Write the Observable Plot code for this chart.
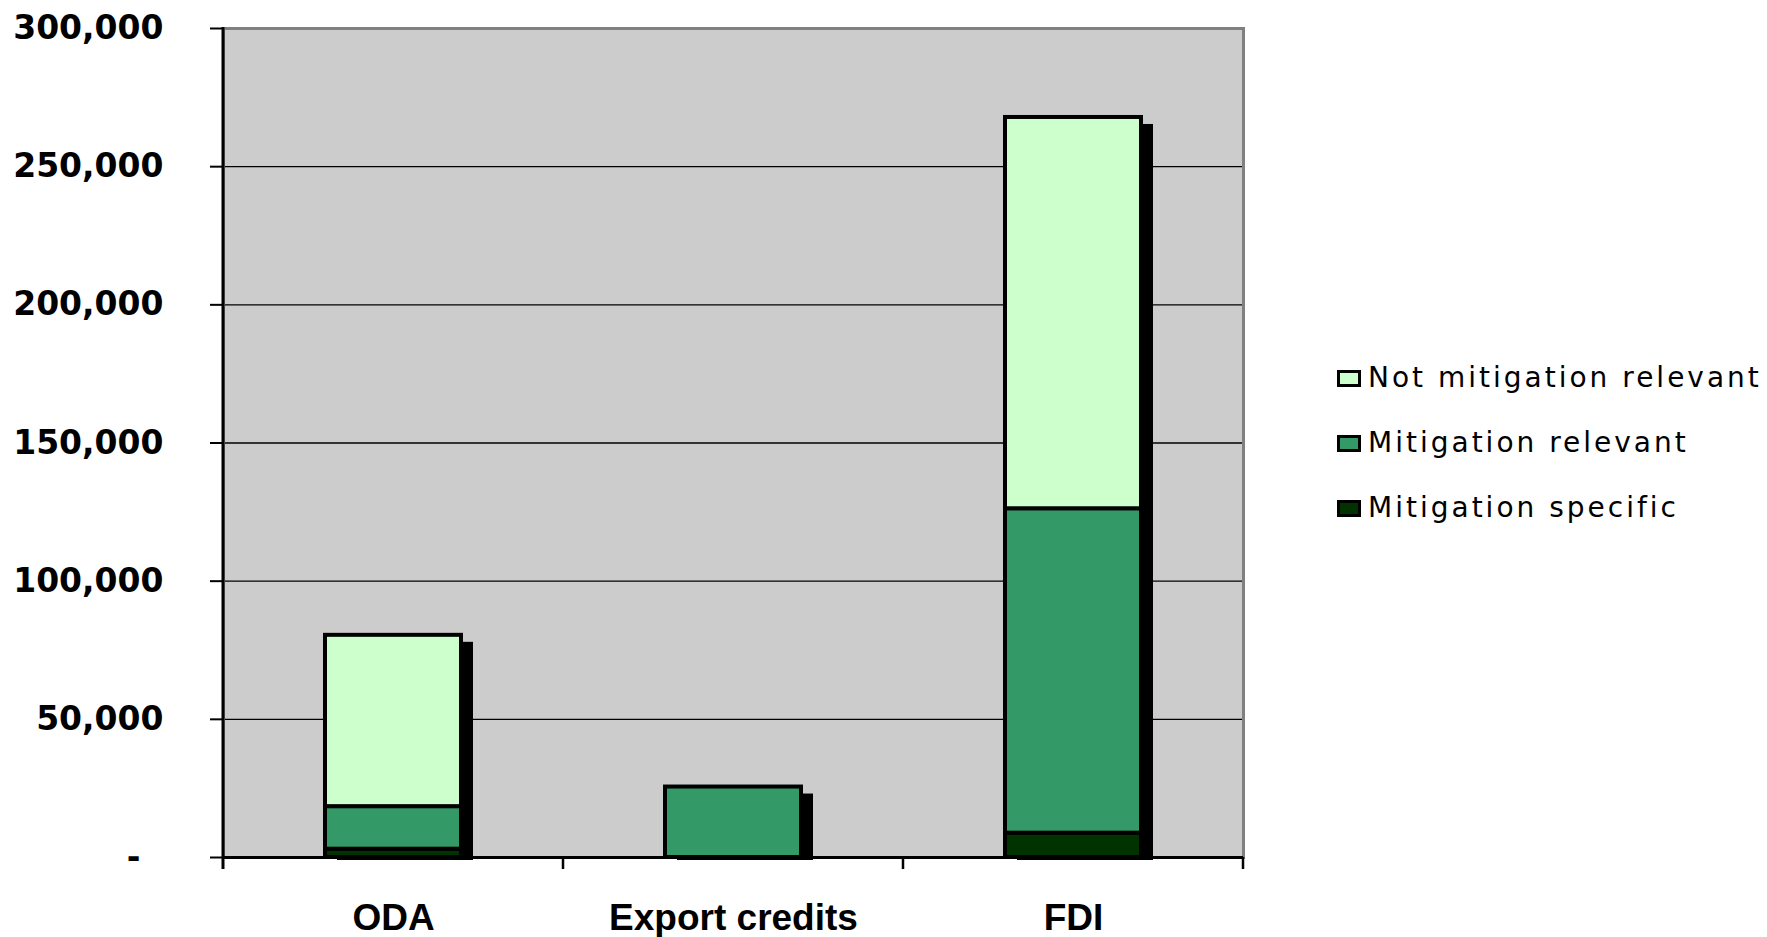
<!DOCTYPE html>
<html>
<head>
<meta charset="utf-8">
<script src="https://cdn.jsdelivr.net/npm/d3@7"></script>
<script src="https://cdn.jsdelivr.net/npm/@observablehq/plot@0.6"></script>
<style>
  html, body { margin: 0; padding: 0; background: #ffffff; overflow: hidden; }
  #wrap { position: relative; width: 1767px; height: 937px; }
  #legend { position: absolute; left: 1337px; top: 362px; display: flex; flex-direction: column; gap: 33px;
            font-family: "DejaVu Sans", sans-serif; font-size: 28px; letter-spacing: 3px; color: #000; }
  .row { display: flex; align-items: center; height: 32px; line-height: 32px; white-space: nowrap; }
  .sw { width: 24px; height: 17px; box-sizing: border-box; border: 3px solid #000; margin-right: 7px; }
</style>
</head>
<body>
<div id="wrap"><div id="legend"></div></div>
<script>
const categories = ["ODA", "Export credits", "FDI"];
const seriesNames = ["Mitigation specific", "Mitigation relevant", "Not mitigation relevant"];
const mitigationSpecific = [3000, 0, 8800];
const mitigationRelevant = [15400, 25500, 117400];
const notMitigationRelevant = [62000, 0, 141600];
const seriesColors = ["#003300", "#339966", "#ccffcc"];
const yTicks = [0, 50000, 100000, 150000, 200000, 250000, 300000];
const legendOrder = ["Not mitigation relevant", "Mitigation relevant", "Mitigation specific"];

const seriesValues = [mitigationSpecific, mitigationRelevant, notMitigationRelevant];
const rows = [];
seriesNames.forEach((s, si) => {
  categories.forEach((c, ci) => {
    const v = seriesValues[si][ci];
    if (v > 0) rows.push({category: c, series: s, value: v});
  });
});
const totals = categories.map((c, ci) => ({
  category: c,
  total: seriesValues.reduce((a, arr) => a + arr[ci], 0)
}));

const chart = Plot.plot({
  width: 1767,
  height: 937,
  marginLeft: 223,
  marginRight: 524,
  marginTop: 28,
  marginBottom: 80,
  style: {background: "white", color: "black", fontFamily: "'Liberation Sans', Arial, sans-serif"},
  x: {domain: categories, paddingInner: 0.6, paddingOuter: 0.3, axis: null, label: null},
  y: {domain: [0, 300000], axis: null, label: null},
  color: {domain: seriesNames, range: seriesColors},
  marks: [
    Plot.frame({fill: "#cccccc", stroke: "none"}),
    Plot.gridY(yTicks, {stroke: "black", strokeOpacity: 1, strokeWidth: 1.3}),
    Plot.frame({fill: "none", stroke: "#808080", strokeWidth: 3}),
    Plot.ruleY([0], {stroke: "black", strokeWidth: 3}),
    Plot.axisY(yTicks, {
      label: null,
      tickSize: 13, tickPadding: 47, strokeWidth: 2,
      tickFormat: d => d === 0 ? "-\u2007" : d3.format(",")(d),
      fontSize: 33, fontWeight: "bold", fontFamily: "'DejaVu Sans', sans-serif"
    }),
    Plot.axisX({label: null, tickSize: 0, tickPadding: 46, fontSize: 37, fontWeight: "bold",
      fontFamily: "'Liberation Sans', Arial, sans-serif"}),
    Plot.barY(totals, {x: "category", y: "total", fill: "black", dx: 12, dy: 7, insetBottom: 4}),
    Plot.barY(rows, {x: "category", y: "value", fill: "series", stroke: "black", strokeWidth: 4})
  ]
});

document.getElementById("wrap").prepend(chart);

// left axis line and category boundary ticks, derived from the plot's scales
const xs = chart.scale("x"), ys = chart.scale("y");
const y0 = ys.apply(0), yTop = ys.apply(300000);
const svg = d3.select(chart);
const g = svg.append("g").attr("stroke", "black");
const bounds = categories.map(c => xs.apply(c) - xs.step * xs.paddingInner / 2);
bounds.push(xs.range[1]);
g.append("line").attr("x1", xs.range[0]).attr("x2", xs.range[0]).attr("y1", yTop - 1).attr("y2", y0 + 12).attr("stroke-width", 3);
bounds.slice(1).forEach(b => {
  g.append("line").attr("x1", b).attr("x2", b).attr("y1", y0).attr("y2", y0 + 12).attr("stroke-width", 2.5);
});

// legend
const leg = document.getElementById("legend");
legendOrder.forEach(name => {
  const row = document.createElement("div");
  row.className = "row";
  const sw = document.createElement("div");
  sw.className = "sw";
  sw.style.background = seriesColors[seriesNames.indexOf(name)];
  const t = document.createElement("span");
  t.textContent = name;
  row.appendChild(sw);
  row.appendChild(t);
  leg.appendChild(row);
});
</script>
</body>
</html>
